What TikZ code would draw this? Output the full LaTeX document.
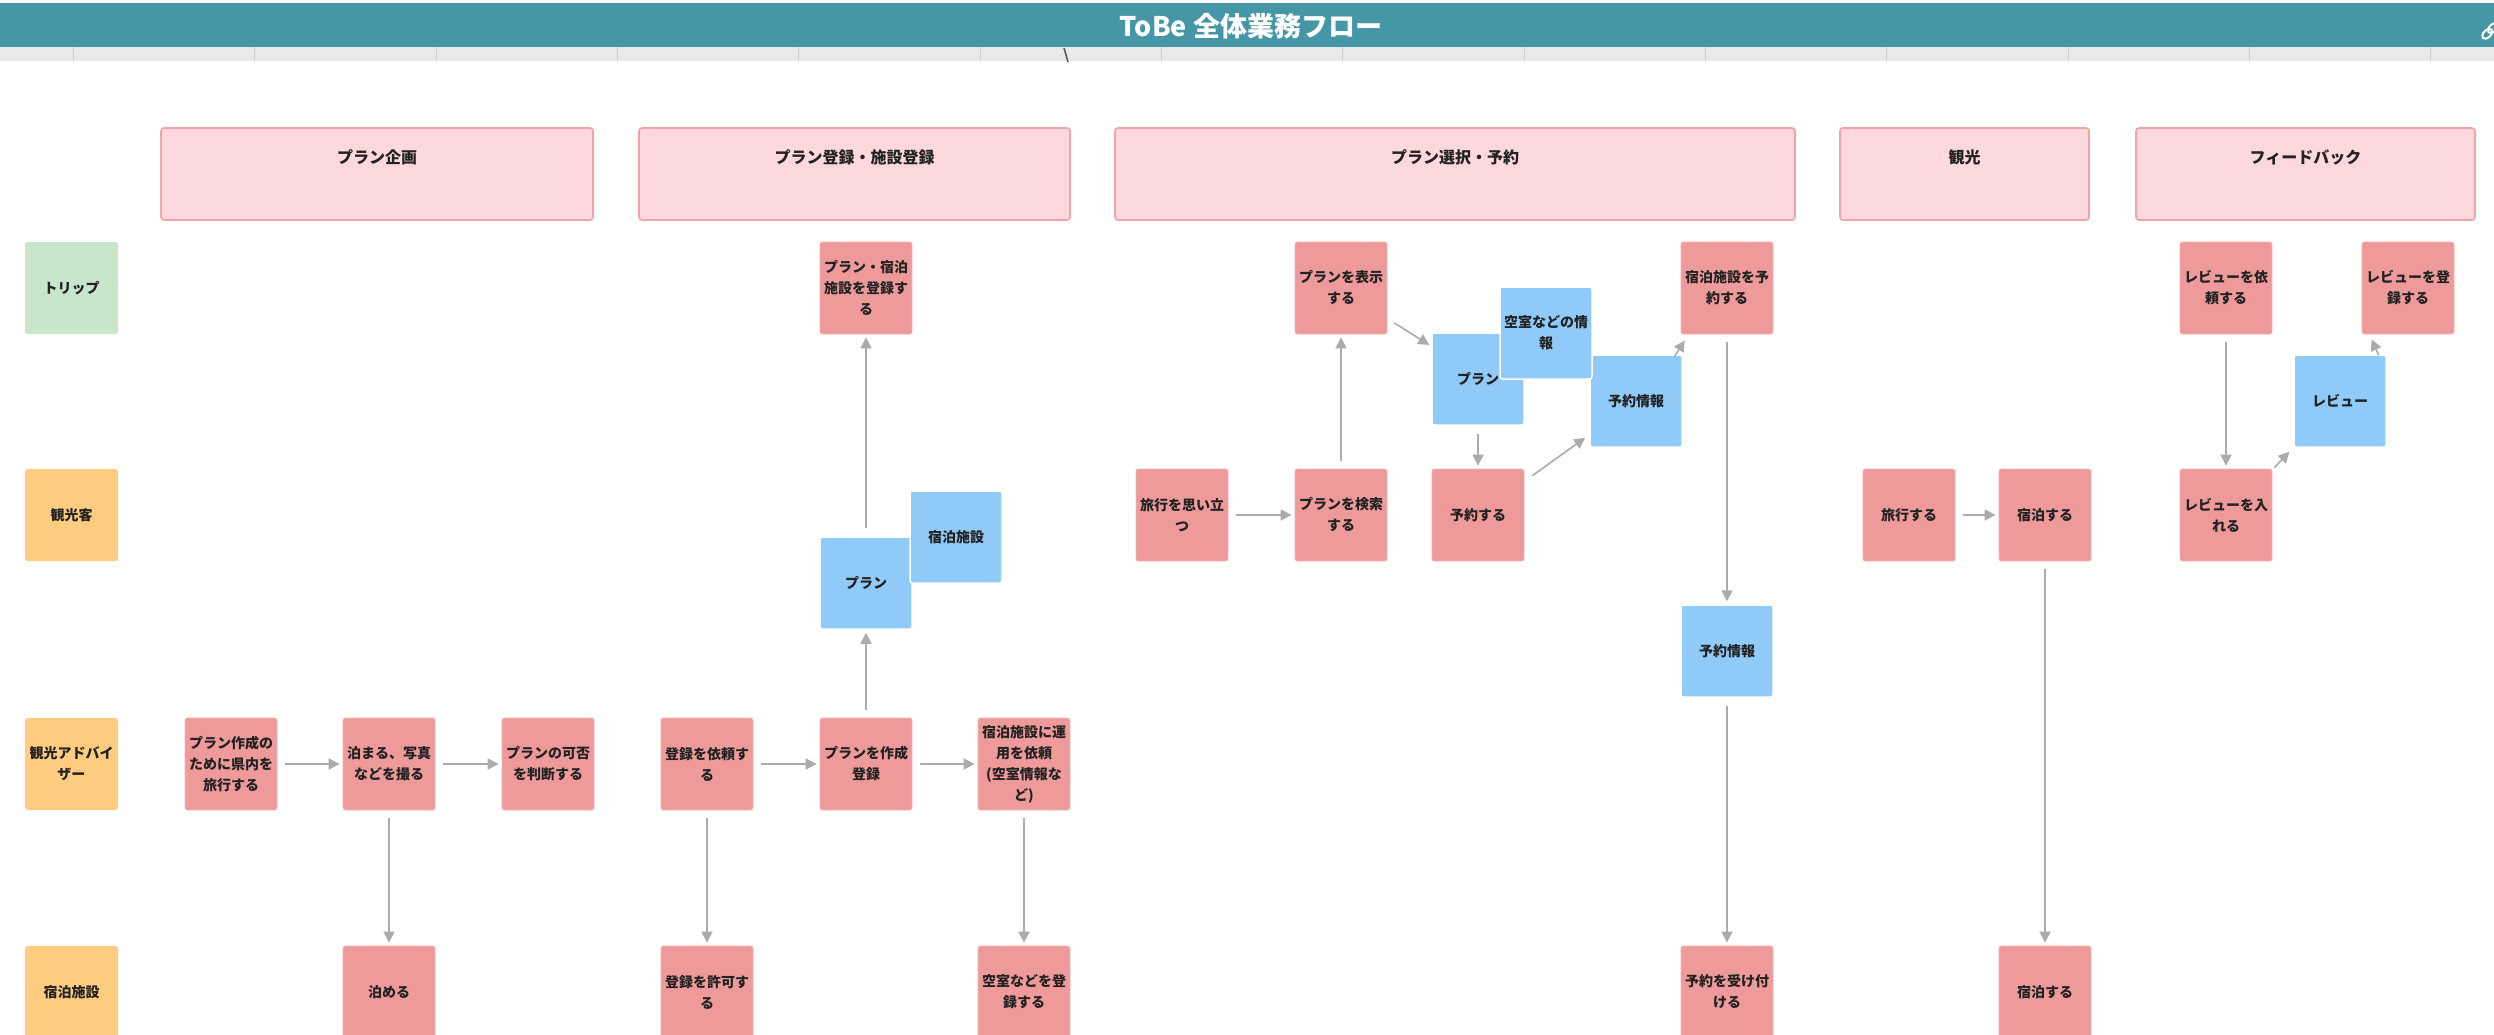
\documentclass[tikz,border=0pt]{standalone}
\usepackage{fontspec}
\setmainfont{Noto Sans CJK JP}
\usetikzlibrary{arrows.meta}

\definecolor{barteal}{HTML}{4597A7}
\definecolor{stripgray}{HTML}{E9E9E9}
\definecolor{tickgray}{HTML}{CFCFCF}
\definecolor{phasefill}{HTML}{FDD8DC}
\definecolor{phaseedge}{HTML}{F2A3A8}
\definecolor{procpink}{HTML}{EE9A9A}
\definecolor{procedge}{HTML}{F2B2B2}
\definecolor{datablue}{HTML}{90CAF9}
\definecolor{lanegreen}{HTML}{C8E6C9}
\definecolor{laneorange}{HTML}{FFCC80}
\definecolor{arrowgray}{HTML}{ABABAB}
\definecolor{textdark}{HTML}{222222}

\newcommand\bxfont{\fontsize{14pt}{21pt}\selectfont\bfseries}

\begin{document}
\begin{tikzpicture}[x=1pt,y=-1pt,
  proc/.style={rectangle, rounded corners=2.5pt, fill=procpink, draw=procedge,
    line width=0.8pt, minimum width=92pt, minimum height=92pt, inner sep=0pt,
    align=center, font=\bxfont, text=textdark},
  data/.style={proc, fill=datablue, draw=white, line width=1.5pt},
  lane/.style={proc, fill=laneorange, draw=none, minimum width=93pt},
  phase/.style={rectangle, rounded corners=3pt, fill=phasefill, draw=phaseedge,
    line width=1.6pt, minimum height=92pt, inner sep=0pt},
  phasetext/.style={font=\fontsize{16pt}{20pt}\selectfont\bfseries, text=textdark, inner sep=0pt},
  flow/.style={draw=arrowgray, line width=1.6pt, -{Triangle[length=11pt,width=11pt]},
    shorten <=8pt, shorten >=3pt},
  link/.style={draw=arrowgray, line width=1.6pt, -{Triangle[length=11pt,width=11pt]}},
]
\useasboundingbox (0,0) rectangle (2494,1035);
\clip (0,0) rectangle (2494,1035);
\fill[white] (0,0) rectangle (2494,1035);

% ---- title bar and ruler strip
\fill[barteal] (0,3) rectangle (2494,47);
\fill[stripgray] (0,47) rectangle (2494,61);
\foreach \x in {73,254,436,617,798,980,1161,1342,1524,1705,1886,2068,2249,2430}
  \draw[tickgray, line width=1pt] (\x,47) -- (\x,61);
\draw[gray!70!black, line width=1.6pt] (1064,48) -- (1068,62);
\node[text=white, font=\fontsize{27pt}{31pt}\selectfont\bfseries, inner sep=0pt] (title) at (1251,26) {ToBe 全体業務フロー};
\begin{scope}[shift={(2490,31)}, rotate=45]
  \draw[white, line width=2pt] (-4,0) ellipse (6 and 3.6);
  \draw[white, line width=2pt] (4,0) ellipse (6 and 3.6);
\end{scope}

% ---- phase headers
\node[phase, minimum width=432pt] (p1) at (377,174) {};
\node[phasetext] (p1t) at (377,157) {プラン企画};
\node[phase, minimum width=431pt] (p2) at (854.5,174) {};
\node[phasetext] (p2t) at (854.5,157) {プラン登録・施設登録};
\node[phase, minimum width=680pt] (p3) at (1455,174) {};
\node[phasetext] (p3t) at (1455,157) {プラン選択・予約};
\node[phase, minimum width=249pt] (p4) at (1964.5,174) {};
\node[phasetext] (p4t) at (1964.5,157) {観光};
\node[phase, minimum width=339pt] (p5) at (2305.5,174) {};
\node[phasetext] (p5t) at (2305.5,157) {フィードバック};

% ---- swimlane labels
\node[lane, fill=lanegreen] (l1) at (71.5,288) {トリップ};
\node[lane] (l2) at (71.5,515) {観光客};
\node[lane] (l3) at (71.5,764) {観光アドバイ\\ザー};
\node[lane] (l4) at (71.5,992) {宿泊施設};

% ---- plan planning
\node[proc] (a1) at (231,764) {プラン作成の\\ために県内を\\旅行する};
\node[proc] (a2) at (389,764) {泊まる、写真\\などを撮る};
\node[proc] (a3) at (548,764) {プランの可否\\を判断する};
\node[proc] (a4) at (389,992) {泊める};

% ---- plan and facility registration
\node[proc] (b1) at (707,764) {登録を依頼す\\る};
\node[proc] (b2) at (866,764) {プランを作成\\登録};
\node[proc] (b3) at (1024,764) {宿泊施設に運\\用を依頼\\(空室情報な\\ど)};
\node[proc] (b4) at (707,992) {登録を許可す\\る};
\node[proc] (b5) at (1024,992) {空室などを登\\録する};
\node[proc] (b6) at (866,288) {プラン・宿泊\\施設を登録す\\る};
\node[data] (d1) at (866,583) {プラン};
\node[data] (d2) at (956,537) {宿泊施設};

% ---- plan selection and booking
\node[proc] (c1) at (1182,515) {旅行を思い立\\つ};
\node[proc] (c2) at (1341,515) {プランを検索\\する};
\node[proc] (c3) at (1341,288) {プランを表示\\する};
\node[data] (d3) at (1478,379) {プラン};
\node[data] (d5) at (1636,401) {予約情報};
\node[data] (d4) at (1546,333) {空室などの情\\報};
\node[proc] (c4) at (1478,515) {予約する};
\node[proc] (c5) at (1727,288) {宿泊施設を予\\約する};
\node[data] (d6) at (1727,651) {予約情報};
\node[proc] (c6) at (1727,992) {予約を受け付\\ける};

% ---- sightseeing
\node[proc] (e1) at (1909,515) {旅行する};
\node[proc] (e2) at (2045,515) {宿泊する};
\node[proc] (e3) at (2045,992) {宿泊する};

% ---- feedback
\node[proc] (f1) at (2226,288) {レビューを依\\頼する};
\node[proc] (f2) at (2408,288) {レビューを登\\録する};
\node[data] (d7) at (2340,401) {レビュー};
\node[proc] (f3) at (2226,515) {レビューを入\\れる};

% ---- connectors
\draw[flow] (a1) -- (a2);
\draw[flow] (a2) -- (a3);
\draw[flow] (a2) -- (a4);

\draw[flow] (b1) -- (b2);
\draw[flow] (b2) -- (b3);
\draw[flow] (b1) -- (b4);
\draw[flow] (b3) -- (b5);
\draw[flow] (b2) -- (d1);
\draw[flow] (d1) -- (b6);

\draw[flow] (c1) -- (c2);
\draw[flow] (c2) -- (c3);
\draw[link] ([xshift=7pt,yshift=-35pt]c3.east) -- ([xshift=-2pt,yshift=34pt]d3.west);
\draw[flow] (d3) -- (c4);
\draw[link] ([xshift=8pt,yshift=-7pt]c4.north east) -- ([xshift=-4pt,yshift=10pt]d5.south west);
\draw[link] ([xshift=-8pt,yshift=-2pt]d5.north east) -- ([xshift=4pt,yshift=-6pt]c5.south west);
\draw[flow] (c5) -- (d6);
\draw[flow] (d6) -- (c6);

\draw[flow] (e1) -- (e2);
\draw[flow] (e2) -- (e3);

\draw[flow] (f1) -- (f3);
\draw[link] ([xshift=2pt,yshift=1pt]f3.north east) -- ([xshift=-4pt,yshift=-4pt]d7.south west);
\draw[link] ([xshift=-8pt,yshift=-1pt]d7.north east) -- ([xshift=10pt,yshift=-5pt]f2.south west);
\end{tikzpicture}
\end{document}
